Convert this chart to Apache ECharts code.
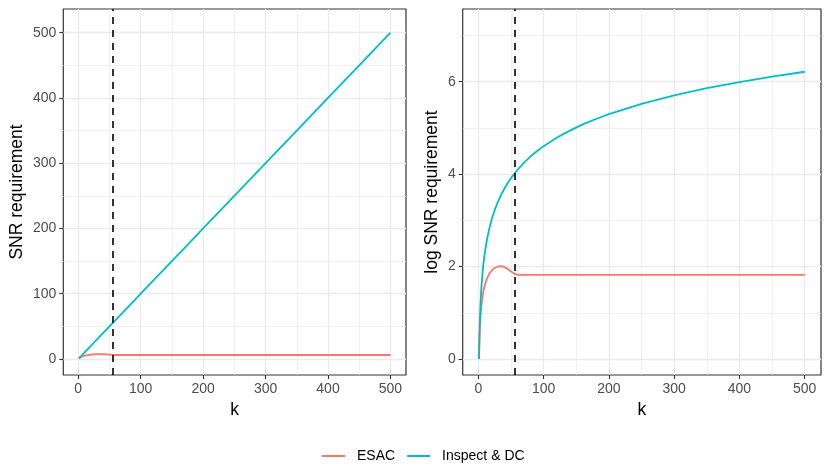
<!DOCTYPE html>
<html>
<head>
<meta charset="utf-8">
<script src="https://cdn.jsdelivr.net/npm/echarts@6/dist/echarts.min.js"></script>
<style>
  html, body { margin: 0; padding: 0; background: #fff; }
  #chart { width: 830px; height: 475px; }
</style>
</head>
<body>
<div id="chart"></div>
<script>
  // values
  const kValues = [1, 2, 3, 4, 5, 6, 7, 8, 9, 10, 12, 14, 16, 18, 20, 23, 26, 30, 35, 40,
                   45, 50, 55, 56, 60, 70, 80, 90, 100, 120, 140, 160, 180, 200, 250, 300, 350, 400, 450, 500];
  const inspectSNR = [1, 2, 3, 4, 5, 6, 7, 8, 9, 10, 12, 14, 16, 18, 20, 23, 26, 30, 35, 40,
                      45, 50, 55, 56, 60, 70, 80, 90, 100, 120, 140, 160, 180, 200, 250, 300, 350, 400, 450, 500];
  const esacSNR = [1.0, 1.75, 2.35, 2.85, 3.3, 3.7, 4.05, 4.4, 4.7, 4.95, 5.45, 5.85, 6.2, 6.5, 6.75, 7.05, 7.25, 7.4, 7.45, 7.3,
                   7.0, 6.65, 6.35, 6.17, 6.17, 6.17, 6.17, 6.17, 6.17, 6.17, 6.17, 6.17, 6.17, 6.17, 6.17, 6.17, 6.17, 6.17, 6.17, 6.17];
  const cutoffK = 55.5;

  const xTicks = [0, 100, 200, 300, 400, 500];
  const xMinor = [50, 150, 250, 350, 450];
  const snrTicks = [0, 100, 200, 300, 400, 500];
  const snrMinor = [50, 150, 250, 350, 450];
  const logTicks = [0, 2, 4, 6];
  const logMinor = [1, 3, 5, 7];

  const seriesNames = ['ESAC', 'Inspect & DC'];
  const colors = ['#F8766D', '#00BFC4'];

  const font = 'Liberation Sans, Helvetica, Arial, sans-serif';
  const gridColor = '#EBEBEB';

  const esacPts = kValues.map((k, i) => [k, esacSNR[i]]);
  const inspectPts = kValues.map((k, i) => [k, inspectSNR[i]]);
  const esacLog = kValues.map((k, i) => [k, Math.log(esacSNR[i])]);
  const inspectLog = kValues.map((k, i) => [k, Math.log(inspectSNR[i])]);

  function majorAxis(grid, min, max, ticks, extra) {
    return Object.assign({
      gridIndex: grid, type: 'value', min: min, max: max,
      axisLine: { show: false, onZero: false },
      axisTick: { show: true, length: 4, customValues: ticks, lineStyle: { color: '#333333', width: 1.1 } },
      axisLabel: { customValues: ticks, color: '#4D4D4D', fontSize: 14, fontFamily: font, margin: 7 },
      splitLine: { show: true, lineStyle: { color: gridColor, width: 1.3 } },
      nameLocation: 'middle',
      nameTextStyle: { color: '#000', fontSize: 17.5, fontFamily: font }
    }, extra);
  }
  function minorAxis(grid, min, max, ticks) {
    return {
      gridIndex: grid, type: 'value', min: min, max: max,
      axisLine: { show: false, onZero: false },
      axisTick: { show: false, customValues: ticks },
      axisLabel: { show: false, customValues: ticks },
      splitLine: { show: true, lineStyle: { color: gridColor, width: 0.7 } }
    };
  }

  const vline = {
    silent: true, symbol: 'none', label: { show: false },
    lineStyle: { color: '#000', type: [7, 6], width: 1.6 },
    data: [{ xAxis: cutoffK }]
  };

  function line(name, color, xi, data, mark) {
    const s = {
      name: name, type: 'line', xAxisIndex: xi, yAxisIndex: xi, data: data,
      showSymbol: false, symbol: 'none', animation: false,
      lineStyle: { color: color, width: 1.8 }, itemStyle: { color: color }
    };
    if (mark) s.markLine = vline;
    return s;
  }

  const chart = echarts.init(document.getElementById('chart'));
  chart.setOption({
    animation: false,
    backgroundColor: '#fff',
    legend: {
      data: seriesNames, left: 317, top: 444,
      icon: 'rect', itemWidth: 23, itemHeight: 2, itemGap: 12,
      textStyle: { color: '#000', fontSize: 14, fontFamily: font, padding: [0, 0, 0, 7] }
    },
    grid: [
      { left: 63.3, top: 9, width: 342.7, height: 366, show: true, backgroundColor: '#fff', borderColor: '#333333', borderWidth: 1.2 },
      { left: 462.7, top: 9, width: 358.3, height: 366, show: true, backgroundColor: '#fff', borderColor: '#333333', borderWidth: 1.2 }
    ],
    xAxis: [
      majorAxis(0, -23.95, 524.95, xTicks, { name: 'k', nameGap: 25 }),
      minorAxis(0, -23.95, 524.95, xMinor),
      majorAxis(1, -23.95, 524.95, xTicks, { name: 'k', nameGap: 25 }),
      minorAxis(1, -23.95, 524.95, xMinor)
    ],
    yAxis: [
      majorAxis(0, -24.5, 536.3, snrTicks, { name: 'SNR requirement', nameGap: 37 }),
      minorAxis(0, -24.5, 536.3, snrMinor),
      majorAxis(1, -0.346, 7.572, logTicks, { name: 'log SNR requirement', nameGap: 22 }),
      minorAxis(1, -0.346, 7.572, logMinor)
    ],
    series: [
      line(seriesNames[0], colors[0], 0, esacPts, true),
      line(seriesNames[1], colors[1], 0, inspectPts, false),
      line(seriesNames[0], colors[0], 2, esacLog, true),
      line(seriesNames[1], colors[1], 2, inspectLog, false)
    ]
  });
</script>
</body>
</html>
